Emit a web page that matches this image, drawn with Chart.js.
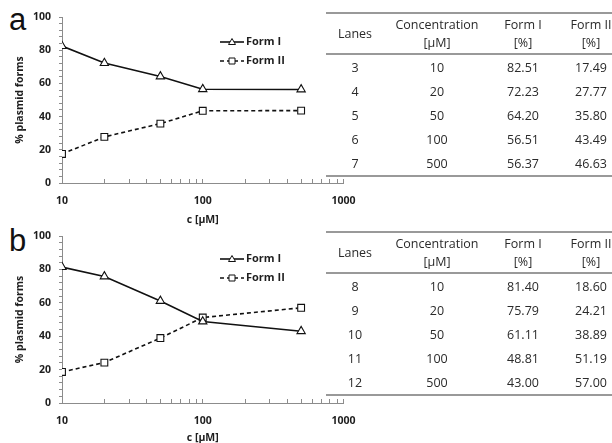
<!DOCTYPE html>
<html>
<head>
<meta charset="utf-8">
<script src="https://cdn.jsdelivr.net/npm/chart.js@4.4.0/dist/chart.umd.min.js"></script>
<style>
  body { margin: 0; width: 612px; height: 443px; overflow: hidden; background: #fff; position: relative; font-family: 'Open Sans', sans-serif; }
  .letter { position: absolute; left: 9px; font-family: 'Liberation Sans', Arial, sans-serif; font-size: 31px; line-height: 1; color: #111; }
  canvas { position: absolute; left: 0; }
  table.data { position: absolute; left: 326px; border-collapse: collapse; table-layout: fixed; width: 300px; color: #2a2a2a; font-size: 12.5px; }
  table.data th { font-weight: normal; height: 39px; line-height: 18px; padding: 0; border-top: 2px solid #999; border-bottom: 2px solid #999; text-align: center; vertical-align: middle; }
  table.data td { height: 24px; padding: 0; text-align: center; vertical-align: middle; }
  table.data tr:last-child td { border-bottom: 2px solid #999; }
</style>
</head>
<body>
<div class="letter" style="top:4px">a</div>
<div class="letter" style="top:225px">b</div>
<canvas id="chart-a" width="371" height="228" style="top:0px"></canvas>
<canvas id="chart-b" width="371" height="228" style="top:220px"></canvas>
<table class="data" id="table-a" style="top:12px"></table>
<table class="data" id="table-b" style="top:231px"></table>
<script>
// values plotted in the charts
const concentrations = [10, 20, 50, 100, 500];
const formIa = [82.51, 72.23, 64.20, 56.51, 56.37];
const formIIa = [17.49, 27.77, 35.80, 43.49, 43.63];
const formIb = [81.40, 75.79, 61.11, 48.81, 43.00];
const formIIb = [18.60, 24.21, 38.89, 51.19, 57.00];

// axis ticks
const xTicks = [10, 20, 30, 40, 50, 60, 70, 80, 90, 100, 200, 300, 400, 500, 600, 700, 800, 900, 1000];
const xLabels = [10, 100, 1000];
const yTicks = [0, 4, 8, 12, 16, 20, 24, 28, 32, 36, 40, 44, 48, 52, 56, 60, 64, 68, 72, 76, 80, 84, 88, 92, 96, 100];
const yLabels = [0, 20, 40, 60, 80, 100];

// table contents
const tableHead = ['Lanes', 'Concentration<br>[µM]', 'Form I<br>[%]', 'Form II<br>[%]'];
const lanesA = ['3', '4', '5', '6', '7'];
const lanesB = ['8', '9', '10', '11', '12'];
const tableConc = ['10', '20', '50', '100', '500'];
const tableFormIa = ['82.51', '72.23', '64.20', '56.51', '56.37'];
const tableFormIIa = ['17.49', '27.77', '35.80', '43.49', '46.63'];
const tableFormIb = ['81.40', '75.79', '61.11', '48.81', '43.00'];
const tableFormIIb = ['18.60', '24.21', '38.89', '51.19', '57.00'];

const axisColor = '#8c8c8c';
const textColor = '#1e1e1e';
const boldFont = { family: 'Open Sans', weight: 'bold', size: 10.5 };

// legend drawn as line + marker + label, like the original
const lineLegend = {
    id: 'lineLegend',
    afterDraw(chart, args, opts) {
        const ctx = chart.ctx;
        ctx.save();
        chart.data.datasets.forEach((ds, i) => {
            const y = opts.y + i * opts.gap;
            const x = opts.x;
            ctx.strokeStyle = ds.borderColor;
            ctx.lineWidth = ds.borderWidth;
            ctx.setLineDash(ds.borderDash || []);
            ctx.beginPath();
            ctx.moveTo(x, y);
            ctx.lineTo(x + 24, y);
            ctx.stroke();
            ctx.setLineDash([]);
            ctx.lineWidth = 1;
            ctx.fillStyle = '#fff';
            ctx.beginPath();
            if (ds.pointStyle === 'triangle') {
                ctx.moveTo(x + 12, y - 3.5);
                ctx.lineTo(x + 15.5, y + 2.5);
                ctx.lineTo(x + 8.5, y + 2.5);
                ctx.closePath();
            } else {
                ctx.rect(x + 9, y - 3, 6, 6);
            }
            ctx.fill();
            ctx.stroke();
            ctx.fillStyle = textColor;
            ctx.font = 'bold 11px "Open Sans"';
            ctx.textBaseline = 'middle';
            ctx.fillText(ds.label, x + 26, y);
        });
        ctx.restore();
    }
};

function makeChart(id, formI, formII, layout) {
    return new Chart(document.getElementById(id), {
        type: 'line',
        data: {
            datasets: [
                {
                    label: 'Form I',
                    data: concentrations.map((c, i) => ({ x: c, y: formI[i] })),
                    borderColor: '#111',
                    borderWidth: 1.6,
                    pointStyle: 'triangle',
                    pointRadius: 4.8,
                    pointBackgroundColor: '#fff',
                    pointBorderColor: '#111',
                    pointBorderWidth: 1.1
                },
                {
                    label: 'Form II',
                    data: concentrations.map((c, i) => ({ x: c, y: formII[i] })),
                    borderColor: '#111',
                    borderWidth: 1.6,
                    borderDash: [4, 3],
                    pointStyle: 'rect',
                    pointRadius: 4.8,
                    pointBackgroundColor: '#fff',
                    pointBorderColor: '#111',
                    pointBorderWidth: 1.1
                }
            ]
        },
        options: {
            responsive: false,
            animation: false,
            layout: { padding: { left: 8, right: 17, top: layout.top, bottom: 0 } },
            plugins: {
                legend: { display: false },
                tooltip: { enabled: false },
                lineLegend: { x: 220, y: layout.legendY, gap: 19 }
            },
            scales: {
                x: {
                    type: 'logarithmic',
                    min: 10,
                    max: 1000,
                    afterBuildTicks: s => { s.ticks = xTicks.map(v => ({ value: v })); },
                    afterFit: s => { s.height = 45; },
                    ticks: {
                        autoSkip: false,
                        maxRotation: 0,
                        padding: 15.5,
                        color: textColor,
                        font: boldFont,
                        callback: v => xLabels.includes(v) ? String(v) : ''
                    },
                    grid: { drawOnChartArea: false, tickLength: -4, color: axisColor },
                    border: { color: axisColor, width: 1 },
                    title: {
                        display: true, text: 'c [µM]', color: textColor,
                        font: { family: 'Open Sans', weight: 'bold', size: 10.5, lineHeight: 1 },
                        padding: { top: 0, bottom: layout.titlePad }
                    }
                },
                y: {
                    min: 0,
                    max: 100,
                    afterBuildTicks: s => { s.ticks = yTicks.map(v => ({ value: v })); },
                    afterFit: s => { s.width = 54; },
                    ticks: {
                        autoSkip: false,
                        padding: 8,
                        color: textColor,
                        font: boldFont,
                        callback: v => yLabels.includes(v) ? String(v) : ''
                    },
                    grid: { drawOnChartArea: false, tickLength: 3, color: axisColor },
                    border: { color: axisColor, width: 1 },
                    title: {
                        display: true, text: '% plasmid forms', color: textColor,
                        font: { family: 'Open Sans', weight: 'bold', size: 10.5, lineHeight: 1.2 },
                        padding: { top: 6, bottom: 0 }
                    }
                }
            }
        },
        plugins: [lineLegend]
    });
}

function fillTable(id, lanes, formI, formII) {
    const table = document.getElementById(id);
    let html = '<colgroup><col style="width:58px"><col style="width:106px"><col style="width:66px"><col style="width:70px"></colgroup>';
    html += '<tr>' + tableHead.map(h => `<th>${h}</th>`).join('') + '</tr>';
    lanes.forEach((lane, i) => {
        html += `<tr><td>${lane}</td><td>${tableConc[i]}</td><td>${formI[i]}</td><td>${formII[i]}</td></tr>`;
    });
    table.innerHTML = html;
}

makeChart('chart-a', formIa, formIIa, { top: 17, legendY: 42, titlePad: 2.5 });
makeChart('chart-b', formIb, formIIb, { top: 16, legendY: 39, titlePad: 4.5 });
fillTable('table-a', lanesA, tableFormIa, tableFormIIa);
fillTable('table-b', lanesB, tableFormIb, tableFormIIb);
</script>
</body>
</html>
